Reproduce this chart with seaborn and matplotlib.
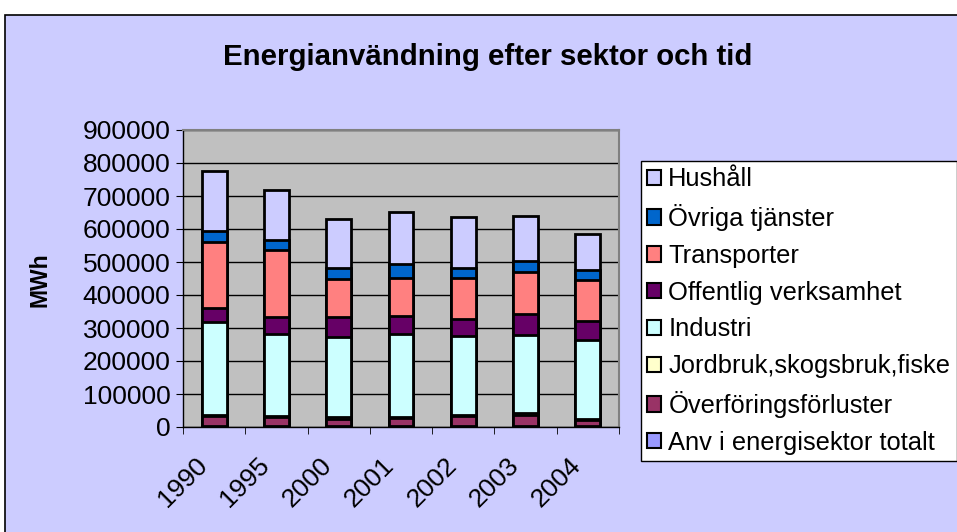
import numpy as np
import pandas as pd
import seaborn as sns
import matplotlib.pyplot as plt
from matplotlib.patches import Patch, Rectangle
from matplotlib.transforms import ScaledTranslation

# data (MWh)
years = ["1990", "1995", "2000", "2001", "2002", "2003", "2004"]
anv_energisektor = [3000, 3000, 3000, 3000, 3000, 2000, 3000]
overforing = [30000, 27000, 20000, 24000, 29000, 35000, 17000]
jordbruk = [4000, 3000, 7000, 3000, 3000, 5000, 5000]
industri = [282000, 249000, 243000, 253000, 241000, 236000, 238000]
offentlig = [43000, 52000, 60000, 53000, 52000, 65000, 57000]
transporter = [199000, 201000, 117000, 117000, 124000, 128000, 124000]
ovriga = [32500, 31000, 32000, 42000, 31000, 33000, 32000]
hushall = [183000, 151000, 149000, 155000, 153000, 134000, 109000]

sectors = ["Anv i energisektor totalt", "Överföringsförluster", "Jordbruk,skogsbruk,fiske",
           "Industri", "Offentlig verksamhet", "Transporter", "Övriga tjänster", "Hushåll"]
colors = ["#9999FF", "#993366", "#FFFFCC", "#CCFFFF", "#660066", "#FF8080", "#0066CC", "#CCCCFF"]

df = pd.DataFrame({"year": years})
for name, vals in zip(sectors, [anv_energisektor, overforing, jordbruk, industri,
                                offentlig, transporter, ovriga, hushall]):
    df[name] = vals
cum = df[sectors].cumsum(axis=1)

sns.set_style("white")
plt.rcParams["font.family"] = ["Liberation Sans", "DejaVu Sans"]
plt.rcParams["text.color"] = "black"
plt.rcParams["xtick.color"] = "black"
plt.rcParams["ytick.color"] = "black"
plt.rcParams["axes.labelcolor"] = "black"

fig = plt.figure(figsize=(9.57, 5.32), dpi=100)
fig.patch.set_facecolor("white")
# chart area frame
fig.patches.append(Rectangle((5 / 957, -0.1), 1.1, 1.1 - 15 / 532, transform=fig.transFigure,
                             facecolor="#CCCCFF", edgecolor="black", linewidth=1.2, zorder=-10))

ax = fig.add_axes([183 / 957, 105 / 532, 436 / 957, 297 / 532])
ax.set_facecolor("#C0C0C0")

# stacked bars: draw cumulative totals from top to bottom
for name, col in reversed(list(zip(sectors, colors))):
    sns.barplot(x=df["year"], y=cum[name], color=col, saturation=1, width=0.4,
                edgecolor="black", linewidth=2, ax=ax, zorder=3)

ax.set_ylim(0, 900000)
ax.set_xlim(-0.5, 6.5)
ax.set_yticks(np.arange(0, 900001, 100000))
ax.yaxis.grid(True, color="black", linewidth=1, zorder=0)
ax.set_axisbelow(True)
ax.tick_params(axis="y", labelsize=19, length=5, color="black", direction="out", left=True, pad=4)
ax.tick_params(axis="x", which="major", labelsize=19, length=0, pad=19)
ax.set_xticks(np.arange(-0.5, 7, 1), minor=True)
ax.tick_params(axis="x", which="minor", length=5, color="black", bottom=True)
shift = ScaledTranslation(-0.19, 0, fig.dpi_scale_trans)
for lbl in ax.get_xticklabels():
    lbl.set_rotation(45)
    lbl.set_ha("right")
    lbl.set_rotation_mode("anchor")
    lbl.set_transform(lbl.get_transform() + shift)

for s in ["top", "right"]:
    ax.spines[s].set_color("#808080")
    ax.spines[s].set_linewidth(1.5)
for s in ["left", "bottom"]:
    ax.spines[s].set_color("black")
    ax.spines[s].set_linewidth(1)

ax.set_xlabel("")
ax.set_ylabel("MWh", fontsize=16.5, fontweight="bold")
ax.yaxis.set_label_coords((51 - 183) / 436, 0.497)

fig.text(488 / 957, 1 - 57 / 532, "Energianvändning efter sektor och tid",
         ha="center", va="center", fontsize=21.2, fontweight="bold")

handles = [Patch(facecolor=c, edgecolor="black", linewidth=1.5) for c in reversed(colors)]
leg = fig.legend(handles, list(reversed(sectors)), loc="upper left",
                 bbox_to_anchor=(641 / 957, 1 - 161 / 532), fontsize=18.4,
                 frameon=True, fancybox=False, edgecolor="black", framealpha=1,
                 handlelength=0.55, handleheight=0.55, handletextpad=0.27,
                 labelspacing=0.5, borderpad=0.25, borderaxespad=0)
leg.get_frame().set_linewidth(1)

fig.savefig("out.png", dpi=100)
